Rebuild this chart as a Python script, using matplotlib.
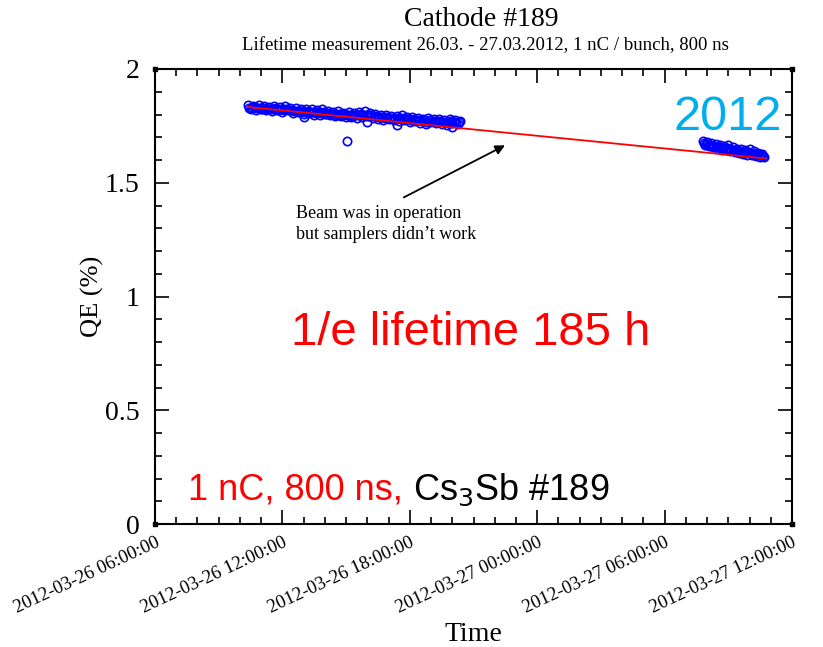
import matplotlib
matplotlib.use('Agg')
import matplotlib.pyplot as plt
import matplotlib.dates as mdates
import pandas as pd

# hours since 2012-03-26 00:00
run1_hours = [10.375, 10.5, 10.625, 10.75, 10.875, 11.0, 11.125, 11.25,
              11.375, 11.5, 11.625, 11.75, 11.875, 12.0, 12.125, 12.25,
              12.375, 12.5, 12.625, 12.75, 12.875, 13.0, 13.125, 13.25,
              13.375, 13.5, 13.625, 13.75, 13.875, 14.0, 14.125, 14.25,
              14.375, 14.5, 14.625, 14.75, 14.875, 15.0, 15.125, 15.25,
              15.375, 15.5, 15.625, 15.75, 15.875, 16.0, 16.125, 16.25,
              16.375, 16.5, 16.625, 16.75, 16.875, 17.0, 17.125, 17.25,
              17.375, 17.5, 17.625, 17.75, 17.875, 18.0, 18.125, 18.25,
              18.375, 18.5, 18.625, 18.75, 18.875, 19.0, 19.125, 19.25,
              19.375, 19.5, 19.625, 19.75, 19.875, 20.0, 20.125, 20.25,
              20.375]
run1_qe = [1.842, 1.822, 1.838, 1.818, 1.840, 1.825, 1.836, 1.820,
           1.835, 1.815, 1.838, 1.820, 1.832, 1.812, 1.836, 1.818,
           1.828, 1.806, 1.830, 1.810, 1.826, 1.804, 1.824, 1.808,
           1.822, 1.800, 1.818, 1.798, 1.824, 1.804, 1.815, 1.796,
           1.812, 1.792, 1.816, 1.795, 1.808, 1.788, 1.812, 1.790,
           1.806, 1.786, 1.812, 1.790, 1.815, 1.792, 1.808, 1.785,
           1.802, 1.780, 1.800, 1.778, 1.798, 1.782, 1.795, 1.774,
           1.792, 1.772, 1.796, 1.775, 1.788, 1.768, 1.790, 1.770,
           1.785, 1.764, 1.782, 1.760, 1.786, 1.766, 1.780, 1.762,
           1.782, 1.760, 1.778, 1.756, 1.780, 1.762, 1.776, 1.758,
           1.772]

run1_mid_hours = [10.4375, 10.5625, 10.6875, 10.8125, 10.9375, 11.0625, 11.1875, 11.3125,
                  11.4375, 11.5625, 11.6875, 11.8125, 11.9375, 12.0625, 12.1875, 12.3125,
                  12.4375, 12.5625, 12.6875, 12.8125, 12.9375, 13.0625, 13.1875, 13.3125,
                  13.4375, 13.5625, 13.6875, 13.8125, 13.9375, 14.0625, 14.1875, 14.3125,
                  14.4375, 14.5625, 14.6875, 14.8125, 14.9375, 15.0625, 15.1875, 15.3125,
                  15.4375, 15.5625, 15.6875, 15.8125, 15.9375, 16.0625, 16.1875, 16.3125,
                  16.4375, 16.5625, 16.6875, 16.8125, 16.9375, 17.0625, 17.1875, 17.3125,
                  17.4375, 17.5625, 17.6875, 17.8125, 17.9375, 18.0625, 18.1875, 18.3125,
                  18.4375, 18.5625, 18.6875, 18.8125, 18.9375, 19.0625, 19.1875, 19.3125,
                  19.4375, 19.5625, 19.6875, 19.8125, 19.9375, 20.0625, 20.1875, 20.3125]
run1_mid_qe = [1.830, 1.828, 1.832, 1.827, 1.829, 1.826, 1.830, 1.825,
               1.826, 1.822, 1.827, 1.820, 1.824, 1.819, 1.823, 1.818,
               1.818, 1.815, 1.817, 1.812, 1.816, 1.810, 1.814, 1.809,
               1.811, 1.808, 1.809, 1.805, 1.810, 1.803, 1.806, 1.801,
               1.803, 1.800, 1.804, 1.798, 1.801, 1.796, 1.800, 1.795,
               1.798, 1.796, 1.801, 1.797, 1.800, 1.795, 1.797, 1.792,
               1.792, 1.788, 1.790, 1.786, 1.789, 1.785, 1.786, 1.781,
               1.783, 1.780, 1.784, 1.779, 1.779, 1.776, 1.780, 1.775,
               1.776, 1.772, 1.774, 1.769, 1.775, 1.770, 1.772, 1.767,
               1.772, 1.768, 1.769, 1.765, 1.770, 1.766, 1.768, 1.765]

stray_hours = [13.0, 15.05, 16.0, 17.4, 20.0]
stray_qe = [1.790, 1.684, 1.766, 1.756, 1.744]

run2_hours = [31.8, 31.9, 32.0, 32.1, 32.2, 32.3, 32.4, 32.5, 32.6, 32.7,
              32.8, 32.9, 33.0, 33.1, 33.2, 33.3, 33.4, 33.5, 33.6, 33.7,
              33.8, 33.9, 34.0, 34.1, 34.2, 34.3, 34.4, 34.5, 34.6, 34.7]
run2_qe = [1.685, 1.665, 1.680, 1.660, 1.675, 1.655, 1.672, 1.650, 1.668, 1.645,
           1.662, 1.642, 1.665, 1.640, 1.655, 1.635, 1.650, 1.630, 1.648, 1.628,
           1.642, 1.624, 1.650, 1.622, 1.638, 1.618, 1.632, 1.615, 1.628, 1.612]

run2_mid_hours = [31.85, 31.95, 32.05, 32.15, 32.25, 32.35, 32.45, 32.55, 32.65, 32.75,
                  32.85, 32.95, 33.05, 33.15, 33.25, 33.35, 33.45, 33.55, 33.65, 33.75,
                  33.85, 33.95, 34.05, 34.15, 34.25, 34.35, 34.45, 34.55, 34.65]
run2_mid_qe = [1.673, 1.670, 1.668, 1.664, 1.662, 1.660, 1.657, 1.655, 1.652, 1.652,
               1.650, 1.651, 1.648, 1.645, 1.642, 1.640, 1.638, 1.637, 1.635, 1.633,
               1.632, 1.634, 1.630, 1.627, 1.625, 1.624, 1.622, 1.620, 1.618]

# exponential fit (1/e lifetime 185 h), end points
fit_hours = [10.38, 34.7]
fit_qe = [1.833, 1.607]

base = pd.Timestamp('2012-03-26 00:00:00')


def to_time(hours):
    return base + pd.to_timedelta(hours, unit='h')


serif = ['Liberation Serif', 'DejaVu Serif']
sans = ['Liberation Sans', 'DejaVu Sans']

fig = plt.figure(figsize=(8.23, 6.47), dpi=100)
ax = fig.add_axes([155 / 823, 1 - 524 / 647, 637 / 823, 455 / 647])

mk = dict(linestyle='none', marker='o', markersize=6.0, markerfacecolor='none',
          markeredgecolor='blue', markeredgewidth=1.2)
ax.plot(to_time(run1_hours), run1_qe, **mk)
ax.plot(to_time(run1_mid_hours), run1_mid_qe, **mk)
ax.plot(to_time(stray_hours), stray_qe, **mk)
ax.plot(to_time(run2_hours), run2_qe, **mk)
ax.plot(to_time(run2_mid_hours), run2_mid_qe, **mk)
ax.plot(to_time(fit_hours), fit_qe, color='red', lw=1.3)

ax.set_xlim(to_time(6), to_time(36))
ax.set_ylim(0, 2)

ax.xaxis.set_major_locator(mdates.HourLocator(byhour=[0, 6, 12, 18]))
ax.xaxis.set_minor_locator(mdates.HourLocator(interval=1))
ax.xaxis.set_major_formatter(mdates.DateFormatter('%Y-%m-%d %H:%M:%S'))
ax.set_yticks([0, 0.5, 1, 1.5, 2])
ax.set_yticklabels(['0', '0.5', '1', '1.5', '2'])
ax.set_yticks([i / 10 for i in range(21)], minor=True)

ax.tick_params(which='both', direction='in', top=True, right=True, width=1.2)
ax.tick_params(which='major', length=10)
ax.tick_params(which='minor', length=5)
ax.tick_params(axis='y', labelsize=20, pad=11)
ax.tick_params(axis='x', pad=7)
for lab in ax.get_yticklabels():
    lab.set_family(serif)
for lab in ax.get_xticklabels():
    lab.set_family(serif)
    lab.set_fontsize(13.5)
    lab.set_rotation(25)
    lab.set_ha('right')
    lab.set_rotation_mode('anchor')
for s in ax.spines.values():
    s.set_linewidth(1.5)

ax.plot([0, 1, 0, 1], [0, 0, 1, 1], 's', transform=ax.transAxes, ms=3,
        color='black', clip_on=False)

ax.set_ylabel('QE (%)', fontsize=19, family=serif, labelpad=1)
ax.set_xlabel('Time', fontsize=20, family=serif)
ax.xaxis.set_label_coords(0.5, -0.215)

fig.text(481 / 823, 1 - 20 / 647, 'Cathode #189', fontsize=20, family=serif,
         ha='center', va='center')
fig.text(485 / 823, 1 - 46 / 647,
         'Lifetime measurement 26.03. - 27.03.2012, 1 nC / bunch, 800 ns',
         fontsize=13.5, family=serif, ha='center', va='center')

ax.text(0.495, 0.42, '1/e lifetime 185 h', transform=ax.transAxes, color='red',
        fontsize=34, family=sans, ha='center', va='center')
ax.text(0.9835, 0.893, '2012', transform=ax.transAxes, color='#00aeef',
        fontsize=35, family=sans, ha='right', va='center')

t1 = ax.text(0.052, 0.053, '1 nC, 800 ns, ', transform=ax.transAxes,
             color='red', fontsize=26, family=sans, ha='left', va='baseline')
ax.annotate('Cs$_3$Sb #189', xy=(1, 0), xycoords=t1, color='black',
            fontsize=26, family=sans, ha='left', va='bottom')

ax.annotate('', xy=(to_time(22.6), 1.67), xytext=(to_time(17.6), 1.43),
            arrowprops=dict(arrowstyle='-|>', color='black', lw=1.3,
                            mutation_scale=14))
ax.text(to_time(12.65), 1.40, "Beam was in operation\nbut samplers didn\u2019t work",
        fontsize=13, family=serif, ha='left', va='top', linespacing=1.3,
        multialignment='left')

fig.savefig('out.png', dpi=100)
plt.close(fig)
